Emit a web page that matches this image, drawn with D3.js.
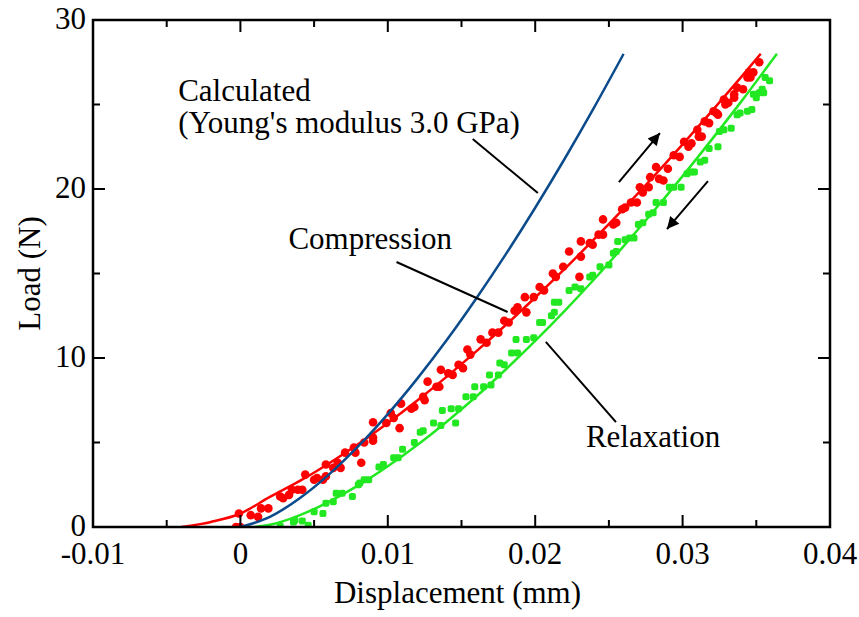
<!DOCTYPE html>
<html>
<head>
<meta charset="utf-8">
<script src="https://cdn.jsdelivr.net/npm/d3@7"></script>
<style>
  body { margin: 0; background: #fff; }
  svg { display: block; font-family: "Liberation Serif", "Times New Roman", serif; }
</style>
</head>
<body>
<svg id="chart" width="859" height="617"></svg>
<script>
// axis ticks
const xTicks = [-0.01, 0, 0.01, 0.02, 0.03, 0.04];
const xTickLabels = ['-0.01', '0', '0.01', '0.02', '0.03', '0.04'];
const yTicks = [0, 10, 20, 30];

// calculated curve (Young's modulus 3.0 GPa)
const calcX = [0, 0.002, 0.004, 0.006, 0.008, 0.010, 0.012, 0.014, 0.016, 0.018, 0.020, 0.022, 0.024, 0.026];
const calcY = [0, 0.6, 1.69, 3.1, 4.78, 6.68, 8.78, 11.06, 13.52, 16.13, 18.89, 21.79, 24.83, 28.0];

// compression fit (red)
const compX = [-0.004, -0.002, 0, 0.002, 0.004, 0.006, 0.008, 0.010, 0.012, 0.014, 0.016, 0.018, 0.020, 0.022, 0.024, 0.026, 0.028, 0.030, 0.032, 0.034, 0.0353];
const compY = [0, 0.3, 0.8, 1.78, 2.71, 3.76, 4.91, 6.16, 7.49, 8.9, 10.39, 11.95, 13.58, 15.27, 17.03, 18.84, 20.71, 22.64, 24.62, 26.65, 28.0];

// relaxation fit (green)
const relaxX = [0.001, 0.002, 0.004, 0.006, 0.008, 0.010, 0.012, 0.014, 0.016, 0.018, 0.020, 0.022, 0.024, 0.026, 0.028, 0.030, 0.032, 0.034, 0.0364];
const relaxY = [0, 0.13, 0.69, 1.49, 2.46, 3.59, 4.85, 6.23, 7.72, 9.32, 11.01, 12.79, 14.66, 16.62, 18.65, 20.76, 22.95, 25.2, 28.0];

// measured compression points
const compPoints = [
  [-0.0003,0.0],[0.0000,0.0],[-0.0001,0.8],[0.0007,0.7],[0.0012,0.6],[0.0014,1.1],[0.0019,1.1],
  [0.0027,1.8],[0.0029,1.7],[0.0033,1.9],[0.0035,2.2],[0.0039,2.2],[0.0042,2.2],[0.0044,3.1],
  [0.0050,2.8],[0.0052,2.9],[0.0056,2.8],[0.0058,3.0],[0.0058,3.7],[0.0063,3.5],[0.0066,3.8],
  [0.0068,3.5],[0.0071,4.4],[0.0077,4.7],[0.0078,4.4],[0.0082,3.8],[0.0084,5.0],[0.0090,5.1],
  [0.0090,5.3],[0.0090,6.2],[0.0099,6.15],[0.0102,6.75],[0.0104,6.45],[0.0108,5.85],[0.0109,7.3],
  [0.0116,7.0],[0.0118,7.1],[0.0124,7.7],[0.0125,7.5],[0.0127,8.6],[0.0133,8.3],[0.0135,8.3],
  [0.0136,9.3],[0.0141,9.1],[0.0144,9.0],[0.0148,9.6],[0.0151,9.4],[0.0154,10.5],[0.0156,10.2],
  [0.0163,11.1],[0.0167,10.9],[0.0171,11.5],[0.0175,11.5],[0.0179,12.2],[0.0182,12.1],[0.0186,12.8],
  [0.0188,13.0],[0.0193,13.6],[0.0194,12.7],[0.0199,13.6],[0.0203,14.2],[0.0206,14.0],[0.0212,15.0],
  [0.0214,14.8],[0.0219,15.4],[0.0223,16.3],[0.0230,14.8],[0.0231,16.0],[0.0231,16.9],[0.0237,16.8],
  [0.0239,16.7],[0.0243,17.3],[0.0246,17.3],[0.0246,18.2],[0.0253,17.9],[0.0255,18.0],[0.0259,18.8],
  [0.0261,18.9],[0.0265,19.2],[0.0269,19.2],[0.0271,20.1],[0.0273,19.8],[0.0277,20.1],[0.0278,20.7],
  [0.0282,21.3],[0.0284,20.6],[0.0287,20.5],[0.0290,21.2],[0.0294,22.0],[0.0298,21.9],[0.0301,22.8],
  [0.0304,22.5],[0.0306,22.7],[0.0310,23.5],[0.0311,23.1],[0.0313,23.1],[0.0315,24.0],[0.0318,23.9],
  [0.0321,24.6],[0.0323,24.5],[0.0324,24.4],[0.0328,25.3],[0.0329,25.0],[0.0331,25.1],[0.0335,25.6],
  [0.0335,25.4],[0.0337,26.0],[0.0341,25.9],[0.0344,26.6],[0.0345,26.9],[0.0346,26.6],[0.0348,26.9],
  [0.0352,27.5]
];

// measured relaxation points
const relaxPoints = [
  [0.0027,0.06],[0.0036,0.3],[0.0037,0.4],[0.0042,0.35],[0.0046,0.1],[0.0050,0.9],[0.0056,0.8],
  [0.0058,1.4],[0.0063,1.5],[0.0065,2.0],[0.0069,2.0],[0.0076,1.8],[0.0080,2.5],[0.0081,2.6],
  [0.0084,2.8],[0.0087,2.8],[0.0094,3.55],[0.0097,3.7],[0.0104,4.1],[0.0107,4.1],[0.0110,4.6],
  [0.0118,5.0],[0.0122,5.6],[0.0124,5.7],[0.0131,6.15],[0.0136,6.0],[0.0137,6.9],[0.0143,7.0],
  [0.0146,6.15],[0.0148,7.0],[0.0153,7.7],[0.0158,7.7],[0.0159,8.3],[0.0165,8.3],[0.0170,8.4],
  [0.0169,9.0],[0.0175,9.0],[0.0176,9.7],[0.0179,9.6],[0.0184,10.3],[0.0188,10.3],[0.0187,11.1],
  [0.0194,11.1],[0.0199,11.2],[0.0203,12.1],[0.0205,12.1],[0.0211,12.5],[0.0213,12.7],[0.0213,13.3],
  [0.0216,13.3],[0.0223,14.0],[0.0227,14.2],[0.0231,14.1],[0.0237,14.8],[0.0239,14.9],[0.0244,15.4],
  [0.0250,15.5],[0.0253,16.2],[0.0255,16.3],[0.0256,16.9],[0.0261,17.0],[0.0264,17.1],[0.0267,17.1],
  [0.0270,17.9],[0.0273,18.0],[0.0277,18.5],[0.0280,18.6],[0.0282,19.2],[0.0287,19.2],[0.0291,20.1],
  [0.0294,20.1],[0.0299,20.1],[0.0303,20.9],[0.0306,21.0],[0.0308,21.0],[0.0312,21.6],[0.0315,21.7],
  [0.0318,22.4],[0.0324,22.5],[0.0325,23.4],[0.0328,23.5],[0.0333,23.6],[0.0337,24.4],[0.0339,24.5],
  [0.0344,24.6],[0.0347,24.7],[0.0348,25.6],[0.0350,25.4],[0.0352,25.7],[0.0354,25.9],[0.0355,25.7],
  [0.0356,26.6],[0.0359,26.4]
];

// annotation texts and leader lines (data coordinates)
const labels = [
  { text: 'Calculated', x: -0.00422, y: 25.2 },
  { text: "(Young's modulus 3.0 GPa)", x: -0.00422, y: 23.31 },
  { text: 'Compression', x: 0.00326, y: 16.45 },
  { text: 'Relaxation', x: 0.02344, y: 4.73 }
];
const leaders = [
  [[0.01576, 22.96], [0.02018, 19.76]],
  [[0.01059, 15.68], [0.01813, 12.72]],
  [[0.02072, 10.95], [0.02548, 6.21]]
];
const arrows = [
  [[0.02568, 20.41], [0.02846, 23.31]],
  [[0.03172, 20.47], [0.02894, 17.63]]
];

const svg = d3.select('#chart');
const pLeft = 93, pRight = 830, pTop = 20, pBottom = 527;

const x = d3.scaleLinear().domain([-0.01, 0.04]).range([pLeft, pRight]);
const y = d3.scaleLinear().domain([0, 30]).range([pBottom, pTop]);

const defs = svg.append('defs');
defs.append('clipPath').attr('id', 'clip')
  .append('rect').attr('x', pLeft).attr('y', pTop).attr('width', pRight - pLeft).attr('height', pBottom - pTop);

defs.append('marker')
  .attr('id', 'head')
  .attr('viewBox', '0 0 10 10')
  .attr('refX', 10).attr('refY', 5)
  .attr('markerWidth', 7).attr('markerHeight', 6)
  .attr('markerUnits', 'strokeWidth')
  .attr('orient', 'auto')
  .append('path').attr('d', 'M0,0 L10,5 L0,10 Z').attr('fill', '#000');

const plot = svg.append('g').attr('clip-path', 'url(#clip)');

const line = d3.line().x(d => x(d[0])).y(d => y(d[1])).curve(d3.curveMonotoneX);

// fit lines
plot.append('path').datum(d3.zip(compX, compY))
  .attr('d', line).attr('fill', 'none').attr('stroke', '#ff0000').attr('stroke-width', 2.5);
plot.append('path').datum(d3.zip(relaxX, relaxY))
  .attr('d', line).attr('fill', 'none').attr('stroke', '#22e822').attr('stroke-width', 2.5);

// measured points
plot.selectAll('rect.relax').data(relaxPoints).enter().append('rect')
  .attr('class', 'relax')
  .attr('x', d => x(d[0]) - 3.5).attr('y', d => y(d[1]) - 3.5)
  .attr('width', 7).attr('height', 7).attr('rx', 2)
  .attr('fill', '#22e822');

plot.selectAll('circle.comp').data(compPoints).enter().append('circle')
  .attr('class', 'comp')
  .attr('cx', d => x(d[0])).attr('cy', d => y(d[1])).attr('r', 4.3)
  .attr('fill', '#ff0000');

// calculated line
plot.append('path').datum(d3.zip(calcX, calcY))
  .attr('d', line).attr('fill', 'none').attr('stroke', '#0b4b8c').attr('stroke-width', 2.5);

// frame and ticks
svg.append('rect').attr('x', pLeft).attr('y', pTop).attr('width', pRight - pLeft).attr('height', pBottom - pTop)
  .attr('fill', 'none').attr('stroke', '#000').attr('stroke-width', 2.5);

const xMinor = [-0.005, 0.005, 0.015, 0.025, 0.035];
const yMinor = [5, 15, 25];
const tickG = svg.append('g').attr('stroke', '#000').attr('stroke-width', 2);
xTicks.concat(xMinor).forEach((t, i) => {
  const len = i < xTicks.length ? 12 : 7;
  tickG.append('line').attr('x1', x(t)).attr('x2', x(t)).attr('y1', pBottom).attr('y2', pBottom - len);
  tickG.append('line').attr('x1', x(t)).attr('x2', x(t)).attr('y1', pTop).attr('y2', pTop + len);
});
yTicks.concat(yMinor).forEach((t, i) => {
  const len = i < yTicks.length ? 12 : 7;
  tickG.append('line').attr('y1', y(t)).attr('y2', y(t)).attr('x1', pLeft).attr('x2', pLeft + len);
  tickG.append('line').attr('y1', y(t)).attr('y2', y(t)).attr('x1', pRight).attr('x2', pRight - len);
});

// tick labels
svg.selectAll('text.xt').data(xTicks).enter().append('text')
  .attr('class', 'xt')
  .attr('x', d => x(d)).attr('y', 564)
  .attr('text-anchor', 'middle').attr('font-size', 31)
  .text((d, i) => xTickLabels[i]);

svg.selectAll('text.yt').data(yTicks).enter().append('text')
  .attr('class', 'yt')
  .attr('x', 86).attr('y', d => y(d) + 9)
  .attr('text-anchor', 'end').attr('font-size', 31)
  .text(d => d);

// axis titles
svg.append('text').attr('x', (pLeft + pRight) / 2 - 4).attr('y', 603)
  .attr('text-anchor', 'middle').attr('font-size', 31).text('Displacement (mm)');
svg.append('text').attr('transform', 'translate(40,' + ((pTop + pBottom) / 2) + ') rotate(-90)')
  .attr('text-anchor', 'middle').attr('font-size', 31).text('Load (N)');

// annotations
svg.selectAll('text.lab').data(labels).enter().append('text')
  .attr('class', 'lab')
  .attr('x', d => x(d.x)).attr('y', d => y(d.y))
  .attr('font-size', 31)
  .text(d => d.text);

svg.selectAll('line.lead').data(leaders).enter().append('line')
  .attr('class', 'lead')
  .attr('x1', d => x(d[0][0])).attr('y1', d => y(d[0][1]))
  .attr('x2', d => x(d[1][0])).attr('y2', d => y(d[1][1]))
  .attr('stroke', '#000').attr('stroke-width', 2);

svg.selectAll('line.arr').data(arrows).enter().append('line')
  .attr('class', 'arr')
  .attr('x1', d => x(d[0][0])).attr('y1', d => y(d[0][1]))
  .attr('x2', d => x(d[1][0])).attr('y2', d => y(d[1][1]))
  .attr('stroke', '#000').attr('stroke-width', 2)
  .attr('marker-end', 'url(#head)');
</script>
</body>
</html>
